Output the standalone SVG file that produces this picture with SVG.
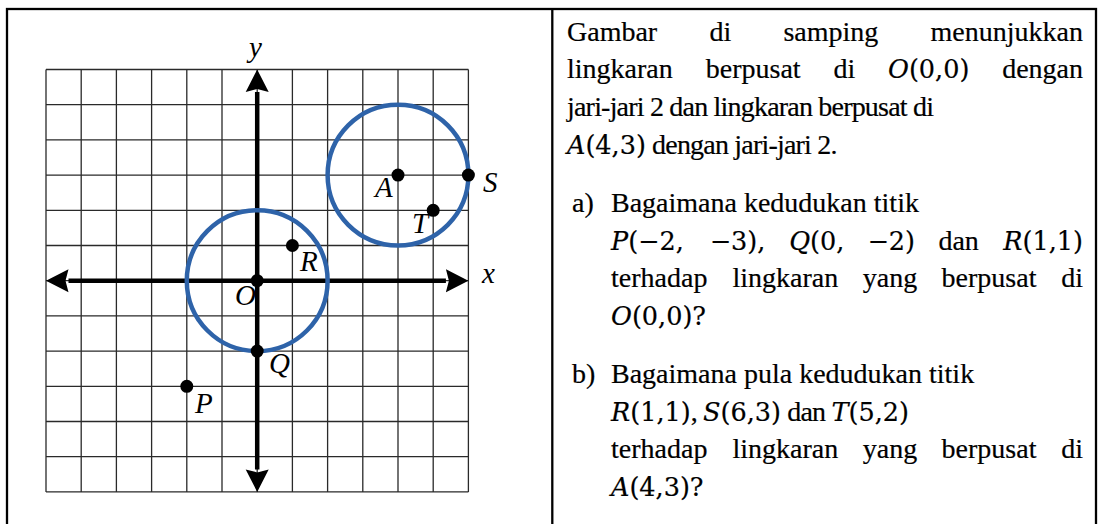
<svg xmlns="http://www.w3.org/2000/svg" width="1098" height="524" viewBox="0 0 1098 524">
<style>
.frame{fill:none;stroke:#000;stroke-width:2.3}
.grid{fill:none;stroke:#2a2a2a;stroke-width:1.3}
.axis{fill:none;stroke:#000;stroke-width:4.5}
.circ{fill:none;stroke:#2E63A9;stroke-width:4.5}
.dot{fill:#000}
.lbl{font-family:"Liberation Serif","Times New Roman",serif;font-style:italic;font-size:29px;fill:#000}
.t{font-family:"Liberation Serif","Times New Roman",serif;font-size:28px;fill:#000;stroke:#000;stroke-width:0.2}
.m{font-family:"DejaVu Serif",serif;font-size:25.5px}
.i{font-style:italic}
.c{letter-spacing:-0.8px}
</style>
<defs>
<marker id="arr" markerUnits="userSpaceOnUse" markerWidth="24" markerHeight="26" viewBox="0 -12 24 24" refX="0" refY="0" orient="auto-start-reverse">
<path d="M0,-11.5 L22.5,0 L0,11.5 L3,0 Z" fill="#000"/>
</marker>
</defs>
<rect class="frame" x="7" y="9" width="1089" height="530"/>
<line class="frame" x1="552.3" y1="9" x2="552.3" y2="524"/>
<g id="grid">
<path class="grid" d="M46,69.5V491.9M81.2,69.5V491.9M116.4,69.5V491.9M151.6,69.5V491.9M186.8,69.5V491.9M222,69.5V491.9M257.2,69.5V491.9M292.4,69.5V491.9M327.6,69.5V491.9M362.8,69.5V491.9M398,69.5V491.9M433.2,69.5V491.9M468.4,69.5V491.9
M46,69.5H468.4M46,104.7H468.4M46,139.9H468.4M46,175.1H468.4M46,210.3H468.4M46,245.5H468.4M46,280.7H468.4M46,315.9H468.4M46,351.1H468.4M46,386.3H468.4M46,421.5H468.4M46,456.7H468.4M46,491.9H468.4"/>
</g>
<g id="connectors">
<line id="x-axis" class="axis" x1="68.5" y1="280.7" x2="445.9" y2="280.7" marker-start="url(#arr)" marker-end="url(#arr)"/>
<line id="y-axis" class="axis" x1="257.2" y1="92" x2="257.2" y2="469.4" marker-start="url(#arr)" marker-end="url(#arr)"/>
</g>
<g id="circle-O"><circle class="circ" cx="257.2" cy="280.7" r="70.4"/></g>
<g id="circle-A"><circle class="circ" cx="398" cy="175.1" r="70.4"/></g>
<g id="point-O"><circle class="dot" cx="257.2" cy="280.7" r="6.5"/><text class="lbl" x="235" y="305">O</text></g>
<g id="point-A"><circle class="dot" cx="398" cy="175.1" r="6.5"/><text class="lbl" x="375" y="197">A</text></g>
<g id="point-S"><circle class="dot" cx="468.4" cy="175.1" r="6.5"/><text class="lbl" x="483" y="192">S</text></g>
<g id="point-T"><circle class="dot" cx="433.2" cy="210.3" r="6.5"/><text class="lbl" x="412" y="233">T</text></g>
<g id="point-R"><circle class="dot" cx="292.4" cy="245.5" r="6.5"/><text class="lbl" x="300" y="271">R</text></g>
<g id="point-Q"><circle class="dot" cx="257.2" cy="351.1" r="6.5"/><text class="lbl" x="269" y="373">Q</text></g>
<g id="point-P"><circle class="dot" cx="186.8" cy="386.3" r="6.5"/><text class="lbl" x="195" y="413">P</text></g>
<g id="axis-labels"><text class="lbl" x="249" y="57">y</text><text class="lbl" x="482" y="283">x</text></g>
<g id="problem-text">
<text class="t" x="567" y="40.5">Gambar</text>
<text class="t" x="709.4" y="40.5">di</text>
<text class="t" x="783.4" y="40.5">samping</text>
<text class="t" x="1083" y="40.5" text-anchor="end">menunjukkan</text>

<text class="t" x="567" y="78.3">lingkaran</text>
<text class="t" x="705.8" y="78.3">berpusat</text>
<text class="t" x="833.5" y="78.3">di</text>
<text class="t" x="888" y="78.3"><tspan class="m i">O</tspan><tspan class="m">(0,0)</tspan></text>
<text class="t" x="1083" y="78.3" text-anchor="end">dengan</text>

<text class="t c" x="567" y="116.1">jari-jari 2 dan lingkaran berpusat di</text>
<text class="t" x="567" y="153.9"><tspan class="m i">A</tspan><tspan class="m">(4,3)</tspan><tspan class="c"> dengan jari-jari 2.</tspan></text>

<text class="t" x="572" y="212">a)</text>
<text class="t" x="611" y="212">Bagaimana kedudukan  titik</text>
<text class="t m" x="611" y="249.7"><tspan class="i">P</tspan>(−2,</text>
<text class="t m" x="709.7" y="249.7">−3),</text>
<text class="t m" x="789.2" y="249.7"><tspan class="i">Q</tspan>(0,</text>
<text class="t m" x="867.4" y="249.7">−2)</text>
<text class="t" x="938.4" y="249.7">dan</text>
<text class="t m" x="1083" y="249.7" text-anchor="end"><tspan class="i">R</tspan>(1,1)</text>

<text class="t" x="611" y="287.4">terhadap</text>
<text class="t" x="732.5" y="287.4">lingkaran</text>
<text class="t" x="862.8" y="287.4">yang</text>
<text class="t" x="941.6" y="287.4">berpusat</text>
<text class="t" x="1083" y="287.4" text-anchor="end">di</text>
<text class="t m" x="611" y="325.1"><tspan class="i">O</tspan>(0,0)?</text>

<text class="t" x="572" y="383">b)</text>
<text class="t" x="611" y="383">Bagaimana pula kedudukan titik</text>
<text class="t" x="611" y="420.7"><tspan class="m i">R</tspan><tspan class="m">(1,1)</tspan><tspan class="c">, </tspan><tspan class="m i">S</tspan><tspan class="m">(6,3)</tspan><tspan class="c"> dan </tspan><tspan class="m i">T</tspan><tspan class="m">(5,2)</tspan></text>
<text class="t" x="611" y="458.4">terhadap</text>
<text class="t" x="732.5" y="458.4">lingkaran</text>
<text class="t" x="862.8" y="458.4">yang</text>
<text class="t" x="941.6" y="458.4">berpusat</text>
<text class="t" x="1083" y="458.4" text-anchor="end">di</text>
<text class="t m" x="611" y="496.1"><tspan class="i">A</tspan>(4,3)?</text>
</g>
</svg>
